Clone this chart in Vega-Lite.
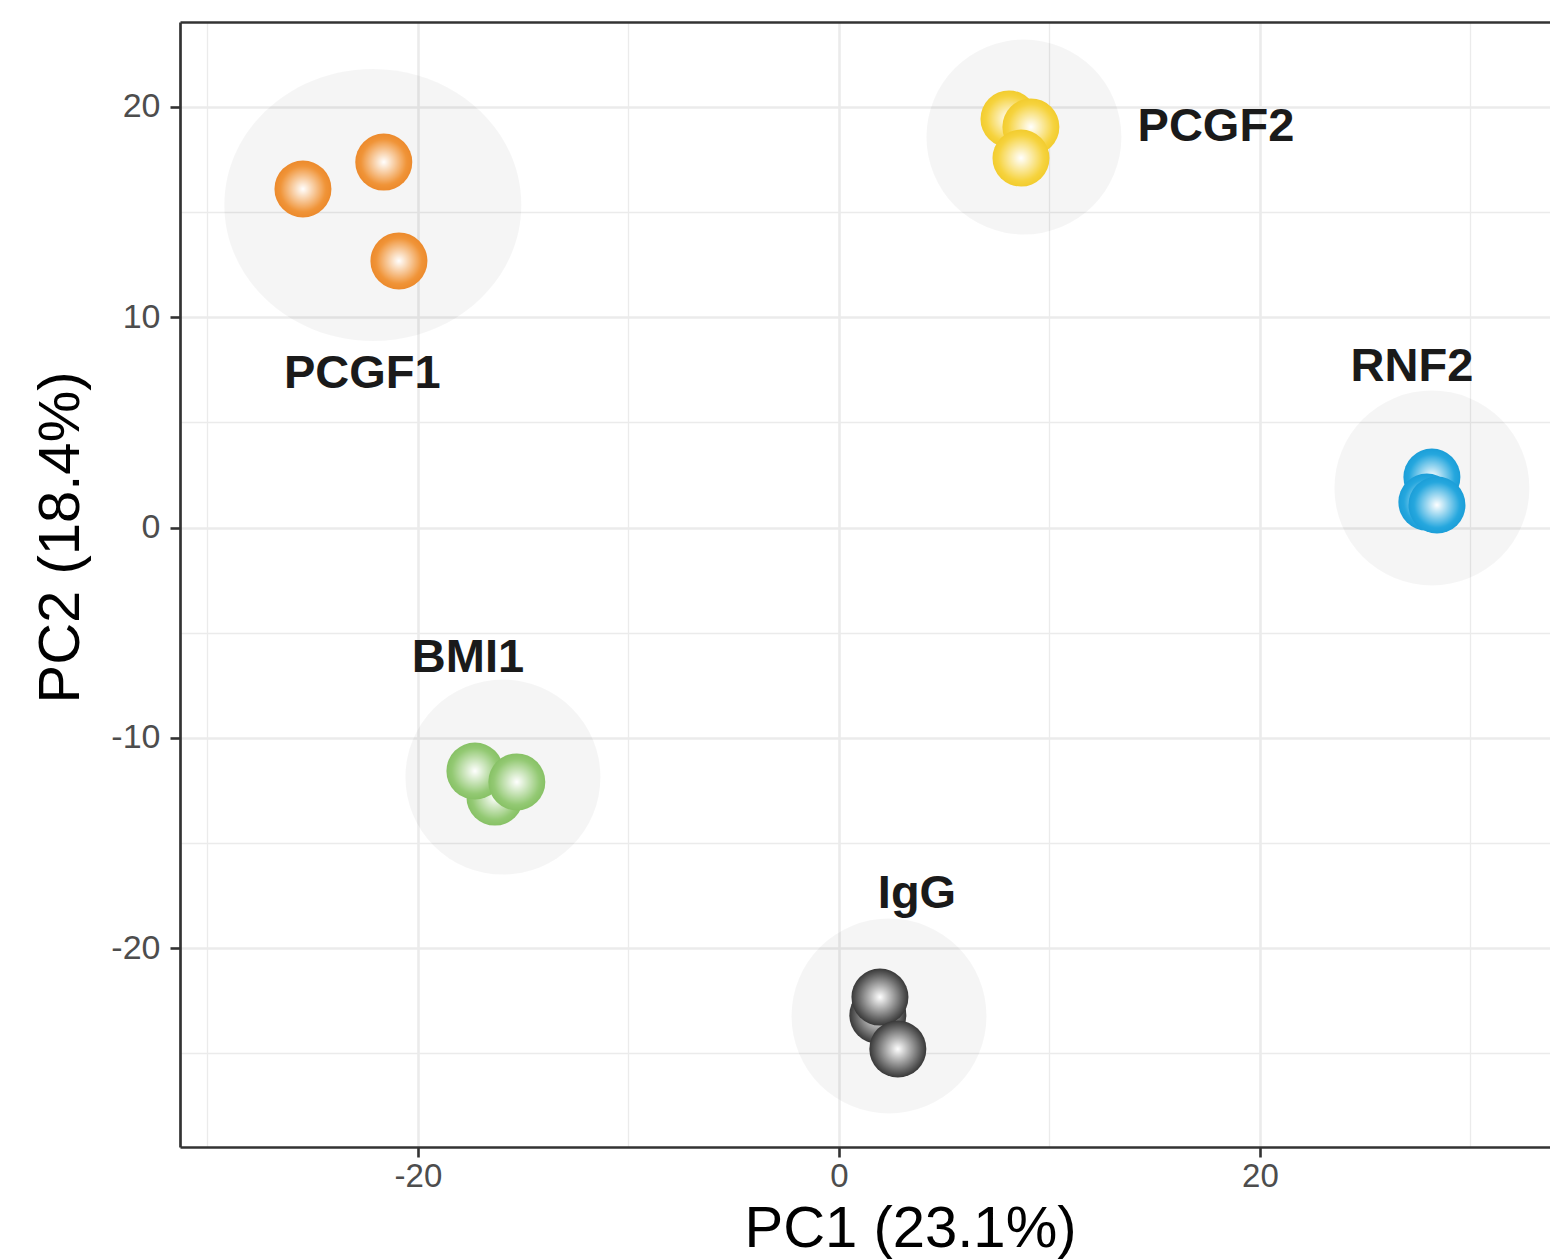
{
  "$schema": "https://vega.github.io/schema/vega-lite/v6.json",
  "width": 1370,
  "height": 1125,
  "autosize": {"type": "none"},
  "padding": {"left": 180, "top": 22, "right": 0, "bottom": 113},
  "background": "white",
  "config": {"view": {"stroke": null}, "font": "Liberation Sans"},
  "datasets": {
    "points": [
      {"group": "PCGF1", "pc1": -25.46, "pc2": 16.10},
      {"group": "PCGF1", "pc1": -21.62, "pc2": 17.38},
      {"group": "PCGF1", "pc1": -20.90, "pc2": 12.68},
      {"group": "PCGF2", "pc1": 8.08, "pc2": 19.43},
      {"group": "PCGF2", "pc1": 9.12, "pc2": 19.05},
      {"group": "PCGF2", "pc1": 8.65, "pc2": 17.57},
      {"group": "RNF2", "pc1": 28.17, "pc2": 2.40},
      {"group": "RNF2", "pc1": 27.93, "pc2": 1.21},
      {"group": "RNF2", "pc1": 28.41, "pc2": 1.07},
      {"group": "BMI1", "pc1": -16.34, "pc2": -12.82},
      {"group": "BMI1", "pc1": -17.29, "pc2": -11.58},
      {"group": "BMI1", "pc1": -15.30, "pc2": -12.10},
      {"group": "IgG", "pc1": 1.85, "pc2": -23.19},
      {"group": "IgG", "pc1": 1.95, "pc2": -22.33},
      {"group": "IgG", "pc1": 2.80, "pc2": -24.80}
    ],
    "clusters": [
      {"group": "PCGF1", "pc1": -22.14, "pc2": 15.34},
      {"group": "PCGF2", "pc1": 8.79, "pc2": 18.57},
      {"group": "RNF2", "pc1": 28.17, "pc2": 1.88},
      {"group": "BMI1", "pc1": -15.96, "pc2": -11.87},
      {"group": "IgG", "pc1": 2.38, "pc2": -23.23}
    ],
    "labels": [
      {"group": "PCGF1", "pc1": -22.64, "pc2": 6.63},
      {"group": "PCGF2", "pc1": 17.91, "pc2": 18.38},
      {"group": "RNF2", "pc1": 27.22, "pc2": 6.97},
      {"group": "BMI1", "pc1": -17.62, "pc2": -6.87},
      {"group": "IgG", "pc1": 3.71, "pc2": -18.10}
    ]
  },
  "resolve": {"axis": {"x": "independent"}},
  "layer": [
    {
      "data": {"name": "clusters"},
      "transform": [{"filter": "datum.group !== 'PCGF1'"}],
      "mark": {"type": "point", "shape": "circle", "filled": true, "size": 38025, "fill": "#000000", "opacity": 0.04, "strokeWidth": 0},
      "encoding": {
        "x": {
          "field": "pc1", "type": "quantitative",
          "scale": {"domain": [-31.3, 33.78], "nice": false, "zero": false},
          "axis": {
            "orient": "bottom",
            "values": [-30, -20, -10, 0, 10, 20, 30],
            "title": "PC1 (23.1%)",
            "grid": true,
            "gridColor": "#ebebeb",
            "gridWidth": {"condition": {"test": "datum.value % 20 !== 0", "value": 1.3}, "value": 2.6},
            "labelExpr": "datum.value % 20 === 0 ? '' + datum.value : ''",
            "tickOpacity": {"condition": {"test": "datum.value % 20 !== 0", "value": 0}, "value": 1},
            "tickSize": 10,
            "tickWidth": 2.6,
            "tickColor": "#333333",
            "domainColor": "#333333",
            "domainWidth": 2.7,
            "labelFontSize": 33,
            "labelFont": "Liberation Sans",
            "labelColor": "#4d4d4d",
            "labelPadding": 3,
            "labelFlush": false,
            "labelOverlap": false,
            "titleFont": "Liberation Sans",
            "titleFontSize": 58,
            "titleFontWeight": "normal",
            "titleColor": "#000000",
            "titleX": 730,
            "titleY": 99,
            "titleBaseline": "alphabetic",
            "titleAlign": "center"
          }
        },
        "y": {
          "field": "pc2", "type": "quantitative",
          "scale": {"domain": [-29.46, 24.04], "nice": false, "zero": false},
          "axis": {
            "orient": "left",
            "values": [-25, -20, -15, -10, -5, 0, 5, 10, 15, 20],
            "title": "PC2 (18.4%)",
            "grid": true,
            "gridColor": "#ebebeb",
            "gridWidth": {"condition": {"test": "datum.value % 10 !== 0", "value": 1.3}, "value": 2.6},
            "labelExpr": "datum.value % 10 === 0 ? '' + datum.value : ''",
            "tickOpacity": {"condition": {"test": "datum.value % 10 !== 0", "value": 0}, "value": 1},
            "tickSize": 10,
            "tickWidth": 2.6,
            "tickColor": "#333333",
            "domainColor": "#333333",
            "domainWidth": 2.7,
            "labelFontSize": 34,
            "labelFont": "Liberation Sans",
            "labelColor": "#4d4d4d",
            "labelPadding": 10,
            "labelFlush": false,
            "labelOverlap": false,
            "titleFont": "Liberation Sans",
            "titleFontSize": 58,
            "titleFontWeight": "normal",
            "titleColor": "#000000",
            "titleX": -102,
            "titleY": 515,
            "titleAngle": 270,
            "titleBaseline": "alphabetic",
            "titleAlign": "center"
          }
        }
      }
    },
    {
      "data": {"name": "clusters"},
      "transform": [{"filter": "datum.group === 'PCGF1'"}],
      "mark": {"type": "point", "shape": "M -1 0 C -1 -0.506 -0.552 -0.916 0 -0.916 C 0.552 -0.916 1 -0.506 1 0 C 1 0.506 0.552 0.916 0 0.916 C -0.552 0.916 -1 0.506 -1 0 Z", "filled": true, "size": 88209, "fill": "#000000", "opacity": 0.04, "strokeWidth": 0},
      "encoding": {
        "x": {
          "field": "pc1", "type": "quantitative",
          "axis": {"orient": "top", "labels": false, "ticks": false, "grid": false, "title": null, "domainColor": "#333333", "domainWidth": 2.7}
        },
        "y": {"field": "pc2", "type": "quantitative"}
      }
    },
    {
      "data": {"name": "points"},
      "mark": {"type": "point", "shape": "circle", "filled": true, "size": 3249, "opacity": 1, "strokeWidth": 0},
      "encoding": {
        "x": {"field": "pc1", "type": "quantitative", "axis": null},
        "y": {"field": "pc2", "type": "quantitative"},
        "fill": {
          "condition": [
            {"test": "datum.group === 'PCGF1'", "value": {"gradient": "radial", "x1": 0.5, "y1": 0.5, "r1": 0, "x2": 0.5, "y2": 0.5, "r2": 0.5, "stops": [{"offset": 0, "color": "#ffffff"}, {"offset": 0.8, "color": "#f09438"}, {"offset": 1, "color": "#ec8a2c"}]}},
            {"test": "datum.group === 'PCGF2'", "value": {"gradient": "radial", "x1": 0.5, "y1": 0.5, "r1": 0, "x2": 0.5, "y2": 0.5, "r2": 0.5, "stops": [{"offset": 0, "color": "#ffffff"}, {"offset": 0.8, "color": "#f6d33e"}, {"offset": 1, "color": "#f2cc2e"}]}},
            {"test": "datum.group === 'RNF2'", "value": {"gradient": "radial", "x1": 0.5, "y1": 0.5, "r1": 0, "x2": 0.5, "y2": 0.5, "r2": 0.5, "stops": [{"offset": 0, "color": "#ffffff"}, {"offset": 0.8, "color": "#25a7de"}, {"offset": 1, "color": "#1b9ed8"}]}},
            {"test": "datum.group === 'BMI1'", "value": {"gradient": "radial", "x1": 0.5, "y1": 0.5, "r1": 0, "x2": 0.5, "y2": 0.5, "r2": 0.5, "stops": [{"offset": 0, "color": "#ffffff"}, {"offset": 0.8, "color": "#93c973"}, {"offset": 1, "color": "#87c165"}]}}
          ],
          "value": {"gradient": "radial", "x1": 0.5, "y1": 0.5, "r1": 0, "x2": 0.5, "y2": 0.5, "r2": 0.5, "stops": [{"offset": 0, "color": "#ffffff"}, {"offset": 0.8, "color": "#5e5e5e"}, {"offset": 1, "color": "#383838"}]}
        }
      }
    },
    {
      "data": {"name": "labels"},
      "mark": {"type": "text", "font": "Liberation Sans", "fontSize": 47, "fontWeight": "bold", "color": "#1a1a1a", "align": "center", "baseline": "alphabetic"},
      "encoding": {
        "x": {"field": "pc1", "type": "quantitative", "axis": null},
        "y": {"field": "pc2", "type": "quantitative"},
        "text": {"field": "group", "type": "nominal"}
      }
    }
  ]
}
